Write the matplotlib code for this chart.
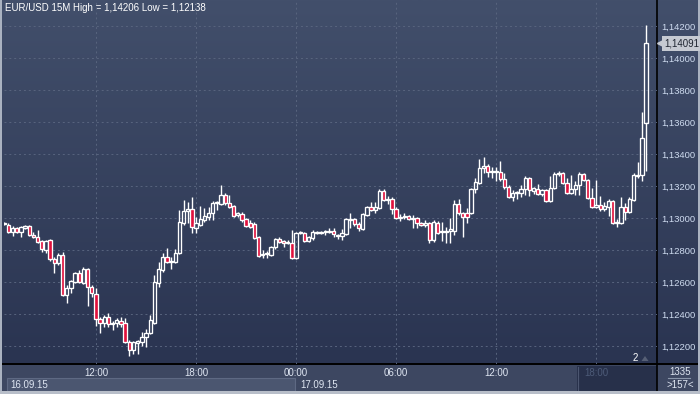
import numpy as np
import matplotlib
matplotlib.use('Agg')
import matplotlib.pyplot as plt
import matplotlib.transforms as mtransforms
from matplotlib.colors import LinearSegmentedColormap
from matplotlib.patches import Rectangle, Polygon
from matplotlib.ticker import FuncFormatter

plt.rcParams['font.family'] = ['Liberation Sans', 'DejaVu Sans']

# EUR/USD 15 minute candles, 16.09.15 06:30 -> 17.09.15 21:00
opens = [
    1.12963, 1.12956, 1.12913, 1.12938, 1.12913, 1.12938, 1.12950, 1.12894, 1.12881, 1.12856,
    1.12800, 1.12863, 1.12744, 1.12719, 1.12769, 1.12519, 1.12563, 1.12600, 1.12656, 1.12594,
    1.12681, 1.12569, 1.12525, 1.12369, 1.12344, 1.12381, 1.12338, 1.12344, 1.12356, 1.12344,
    1.12225, 1.12175, 1.12219, 1.12225, 1.12256, 1.12281, 1.12344, 1.12594, 1.12675, 1.12756,
    1.12725, 1.12725, 1.12781, 1.12969, 1.13044, 1.13056, 1.12938, 1.12956, 1.12988, 1.13006,
    1.13031, 1.13094, 1.13088, 1.13144, 1.13094, 1.13075, 1.13019, 1.13025, 1.12994, 1.12969,
    1.12963, 1.12881, 1.12769, 1.12775, 1.12769, 1.12819, 1.12869, 1.12856, 1.12844, 1.12844,
    1.12750, 1.12906, 1.12906, 1.12856, 1.12875, 1.12906, 1.12906, 1.12913, 1.12913, 1.12919,
    1.12888, 1.12888, 1.12900, 1.12988, 1.12994, 1.12963, 1.12931, 1.13019, 1.13069, 1.13050,
    1.13063, 1.13169, 1.13113, 1.13119, 1.13056, 1.13000, 1.13006, 1.13013, 1.12994, 1.13000,
    1.12969, 1.12956, 1.12969, 1.12863, 1.12969, 1.12913, 1.12913, 1.12919, 1.12919, 1.13088,
    1.13031, 1.13031, 1.13031, 1.13181, 1.13219, 1.13313, 1.13325, 1.13288, 1.13288, 1.13288,
    1.13244, 1.13194, 1.13131, 1.13156, 1.13156, 1.13181, 1.13250, 1.13169, 1.13181, 1.13150,
    1.13175, 1.13106, 1.13188, 1.13275, 1.13281, 1.13219, 1.13156, 1.13181, 1.13206, 1.13275,
    1.13238, 1.13125, 1.13069, 1.13081, 1.13056, 1.13069, 1.13106, 1.12969, 1.12969, 1.13069,
    1.13038, 1.13113, 1.13263, 1.13269, 1.13594,
]
highs = [
    1.12975, 1.12969, 1.12950, 1.12944, 1.12950, 1.12956, 1.12956, 1.12913, 1.12925, 1.12863,
    1.12863, 1.12869, 1.12756, 1.12781, 1.12788, 1.12581, 1.12613, 1.12663, 1.12675, 1.12694,
    1.12688, 1.12581, 1.12563, 1.12381, 1.12394, 1.12406, 1.12356, 1.12375, 1.12381, 1.12375,
    1.12238, 1.12231, 1.12238, 1.12288, 1.12306, 1.12394, 1.12644, 1.12725, 1.12781, 1.12813,
    1.12756, 1.12806, 1.13050, 1.13113, 1.13100, 1.13131, 1.13006, 1.13075, 1.13063, 1.13069,
    1.13106, 1.13106, 1.13206, 1.13156, 1.13144, 1.13081, 1.13038, 1.13038, 1.13000, 1.12988,
    1.12975, 1.12888, 1.12800, 1.12794, 1.12825, 1.12875, 1.12881, 1.12863, 1.12863, 1.12925,
    1.12913, 1.12919, 1.12913, 1.12888, 1.12925, 1.12919, 1.12919, 1.12925, 1.12938, 1.12938,
    1.12900, 1.12931, 1.13000, 1.13031, 1.13000, 1.12975, 1.13031, 1.13075, 1.13100, 1.13100,
    1.13181, 1.13181, 1.13138, 1.13131, 1.13069, 1.13025, 1.13031, 1.13019, 1.13019, 1.13006,
    1.12975, 1.12988, 1.12975, 1.12988, 1.12981, 1.12975, 1.12944, 1.13000, 1.13113, 1.13119,
    1.13038, 1.13063, 1.13188, 1.13250, 1.13369, 1.13381, 1.13338, 1.13319, 1.13319, 1.13356,
    1.13281, 1.13206, 1.13175, 1.13169, 1.13206, 1.13263, 1.13256, 1.13194, 1.13213, 1.13181,
    1.13181, 1.13263, 1.13288, 1.13294, 1.13288, 1.13250, 1.13269, 1.13231, 1.13288, 1.13281,
    1.13244, 1.13188, 1.13238, 1.13138, 1.13100, 1.13119, 1.13113, 1.12994, 1.13131, 1.13094,
    1.13131, 1.13281, 1.13350, 1.13663, 1.14206,
]
lows = [
    1.12956, 1.12906, 1.12888, 1.12906, 1.12881, 1.12931, 1.12888, 1.12875, 1.12844, 1.12788,
    1.12781, 1.12731, 1.12656, 1.12706, 1.12513, 1.12469, 1.12531, 1.12594, 1.12594, 1.12588,
    1.12450, 1.12506, 1.12325, 1.12281, 1.12319, 1.12319, 1.12300, 1.12319, 1.12319, 1.12219,
    1.12138, 1.12150, 1.12150, 1.12200, 1.12194, 1.12275, 1.12338, 1.12569, 1.12663, 1.12719,
    1.12681, 1.12719, 1.12775, 1.12956, 1.12969, 1.12906, 1.12906, 1.12950, 1.12975, 1.12988,
    1.12988, 1.13050, 1.13081, 1.13081, 1.13063, 1.13006, 1.13006, 1.12975, 1.12944, 1.12938,
    1.12869, 1.12756, 1.12750, 1.12750, 1.12763, 1.12806, 1.12844, 1.12819, 1.12838, 1.12744,
    1.12744, 1.12900, 1.12850, 1.12850, 1.12863, 1.12900, 1.12900, 1.12894, 1.12906, 1.12881,
    1.12869, 1.12863, 1.12894, 1.12938, 1.12950, 1.12919, 1.12925, 1.13013, 1.13044, 1.13031,
    1.13056, 1.13106, 1.13088, 1.13025, 1.12994, 1.12981, 1.12994, 1.12988, 1.12938, 1.12938,
    1.12950, 1.12944, 1.12844, 1.12850, 1.12900, 1.12856, 1.12844, 1.12844, 1.12894, 1.13019,
    1.12881, 1.12969, 1.13025, 1.13156, 1.13213, 1.13281, 1.13256, 1.13250, 1.13231, 1.13231,
    1.13181, 1.13125, 1.13106, 1.13119, 1.13131, 1.13144, 1.13138, 1.13150, 1.13144, 1.13138,
    1.13100, 1.13100, 1.13181, 1.13263, 1.13213, 1.13150, 1.13150, 1.13144, 1.13144, 1.13231,
    1.13119, 1.13063, 1.13063, 1.13044, 1.13044, 1.13013, 1.12963, 1.12944, 1.12963, 1.12988,
    1.13031, 1.13106, 1.13250, 1.13231, 1.13294,
]
closes = [
    1.12969, 1.12913, 1.12938, 1.12913, 1.12944, 1.12950, 1.12894, 1.12881, 1.12850, 1.12806,
    1.12856, 1.12744, 1.12719, 1.12769, 1.12519, 1.12563, 1.12606, 1.12656, 1.12600, 1.12681,
    1.12569, 1.12531, 1.12369, 1.12344, 1.12381, 1.12338, 1.12344, 1.12363, 1.12338, 1.12225,
    1.12175, 1.12225, 1.12231, 1.12256, 1.12281, 1.12363, 1.12600, 1.12681, 1.12756, 1.12725,
    1.12731, 1.12781, 1.12975, 1.13044, 1.13056, 1.12944, 1.12969, 1.12994, 1.13013, 1.13031,
    1.13094, 1.13100, 1.13144, 1.13094, 1.13069, 1.13013, 1.13031, 1.12988, 1.12950, 1.12944,
    1.12875, 1.12763, 1.12775, 1.12781, 1.12819, 1.12869, 1.12850, 1.12844, 1.12850, 1.12750,
    1.12906, 1.12913, 1.12856, 1.12881, 1.12913, 1.12913, 1.12913, 1.12919, 1.12919, 1.12900,
    1.12894, 1.12906, 1.12994, 1.12994, 1.12963, 1.12938, 1.13025, 1.13069, 1.13050, 1.13069,
    1.13169, 1.13113, 1.13119, 1.13056, 1.13000, 1.13006, 1.13013, 1.12994, 1.13000, 1.12969,
    1.12956, 1.12969, 1.12863, 1.12975, 1.12906, 1.12919, 1.12919, 1.12931, 1.13088, 1.13031,
    1.13006, 1.13006, 1.13181, 1.13225, 1.13313, 1.13325, 1.13288, 1.13294, 1.13294, 1.13244,
    1.13194, 1.13131, 1.13156, 1.13163, 1.13181, 1.13250, 1.13175, 1.13188, 1.13150, 1.13175,
    1.13106, 1.13188, 1.13275, 1.13281, 1.13219, 1.13156, 1.13181, 1.13206, 1.13275, 1.13238,
    1.13125, 1.13069, 1.13081, 1.13056, 1.13075, 1.13106, 1.12969, 1.12975, 1.13069, 1.13038,
    1.13119, 1.13269, 1.13269, 1.13500, 1.14091,
]

time_ticks = [22, 46, 70, 94, 118, 142]          # candle index of each label
time_labels = ['12:00', '18:00', '00:00', '06:00', '12:00', '18:00']
price_ticks = [1.122, 1.124, 1.126, 1.128, 1.130, 1.132, 1.134, 1.136, 1.138, 1.140, 1.142]
title = 'EUR/USD 15M High = 1,14206 Low = 1,12138'

W, H = 700, 394
fig = plt.figure(figsize=(W / 100, H / 100), dpi=100)

# pixel canvas for the terminal frame
bg = fig.add_axes([0, 0, 1, 1])
bg.set_xlim(0, W)
bg.set_ylim(H, 0)
bg.axis('off')
cmap = LinearSegmentedColormap.from_list('panel', ['#424f6b', '#2a3451'])
bg.imshow(np.linspace(0, 1, 256)[:, None], extent=(0, W, 364, 0), cmap=cmap,
          aspect='auto', zorder=0)
bg.add_patch(Rectangle((0, 364), W, 30, fc='#3d4761', ec='none', zorder=1))
bg.add_patch(Rectangle((7, 377.5), 288, 13, fc='#4b5670', ec='#5e6983', lw=0.8, zorder=2))
bg.add_patch(Rectangle((577, 366), 80, 25, fc='#27304a', ec='none', zorder=2))
bg.plot([577.5, 577.5], [367, 390], color='#4c5670', lw=0.8, zorder=3)
bg.plot([0, W], [364, 364], color='black', lw=1.4, zorder=4)
bg.plot([657, 657], [0, 391], color='black', lw=1.2, zorder=4)
bg.add_patch(Rectangle((0, 0), 2, H, fc='#aab2c0', ec='none', zorder=5))
bg.add_patch(Rectangle((698, 0), 2, H, fc='#aab2c0', ec='none', zorder=5))
bg.add_patch(Rectangle((0, 391), W, 3, fc='#b8bec9', ec='none', zorder=5))

txt = dict(color='#dfe6f2', fontsize=7, va='center', zorder=6)
bg.text(5, 8, title, ha='left', **{**txt, 'color': 'white'})
bg.text(10, 384.5, '16.09.15', ha='left', **txt)
bg.text(300, 384.5, '17.09.15', ha='left', **txt)
bg.text(680, 372, '1335', ha='center', **txt)
bg.plot([668, 690], [378, 378], color='#8a96aa', lw=0.8, zorder=6)
bg.text(680, 385, '>157<', ha='center', **txt)
bg.text(635, 358, '2', ha='center', **{**txt, 'color': 'white'})
bg.add_patch(Polygon([(641.5, 361), (648.5, 361), (645, 356)], fc='#565f75', ec='none', zorder=6))

# chart
ax = fig.add_axes([4 / W, 1 - 364 / H, 653 / W, 364 / H], zorder=2)
ax.set_facecolor('none')
ax.set_xlim(-0.07, 156.6)
ax.set_ylim(1.120875, 1.143625)
for s in ax.spines.values():
    s.set_visible(False)

for p in price_ticks:
    ax.axhline(p, color='#58647e', lw=0.7, ls=(0, (2, 3)), zorder=1)
for t in time_ticks:
    ax.axvline(t, color='#58647e', lw=0.7, ls=(0, (2, 3)), zorder=1)

x = np.arange(len(opens))
o, h, l, c = map(np.array, (opens, highs, lows, closes))
top = np.maximum(o, c)
bot = np.minimum(o, c)
ax.vlines(x, h, top, color='white', lw=1.0, zorder=3)
ax.vlines(x, bot, l, color='white', lw=1.0, zorder=3)
fills = np.where(c < o, '#e0103c', 'none')
ax.bar(x, top - bot, bottom=bot, width=0.8, color=fills, edgecolor='white',
       linewidth=0.95, zorder=4)

ax.yaxis.tick_right()
ax.set_yticks(price_ticks)
ax.yaxis.set_major_formatter(FuncFormatter(lambda v, _: f'{v:.5f}'.replace('.', ',')))
ax.tick_params(axis='y', length=0, pad=3, labelsize=6.8, labelcolor='#cfdcf0')
ax.set_xticks(time_ticks, time_labels)
ax.tick_params(axis='x', length=0, pad=3, labelsize=7, labelcolor='#dfe6f2')
ax.get_xticklabels()[-1].set_color('#4d5b78')

# last price marker on the right scale
trans = mtransforms.blended_transform_factory(ax.transAxes, ax.transData)
last = f'{closes[-1]:.5f}'.replace('.', ',')
ax.plot([1 + 4 / 653], [closes[-1]], marker='<', ms=6, color='#c6cad2',
        transform=trans, clip_on=False, zorder=5)
ax.text(1 + 7 / 653, closes[-1], last, transform=trans, ha='left', va='center',
        fontsize=7, color='#1e2430', clip_on=False, zorder=6,
        bbox=dict(boxstyle='square,pad=0.25', fc='#c6cad2', ec='none'))

fig.savefig('out.png', dpi=100)
